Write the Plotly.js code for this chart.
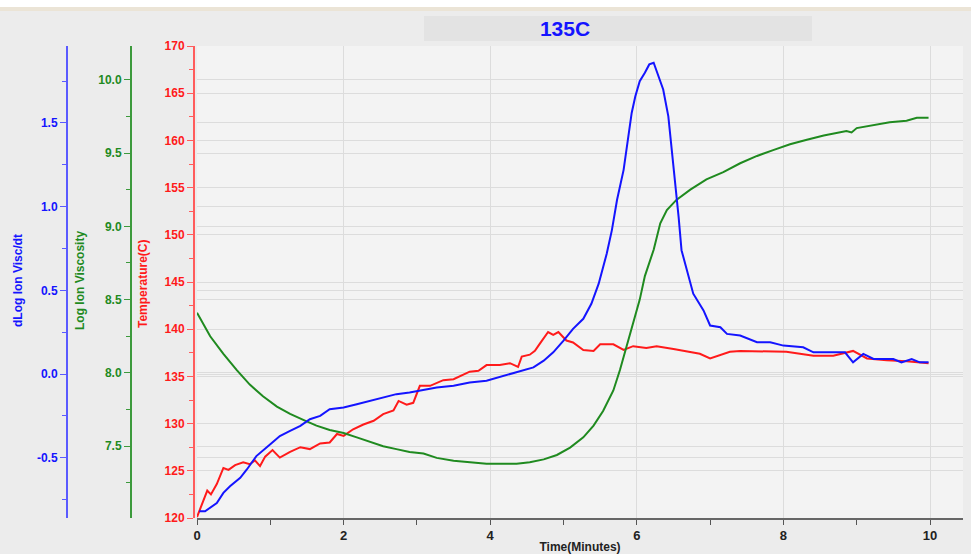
<!DOCTYPE html>
<html>
<head>
<meta charset="utf-8">
<script src="https://cdn.plot.ly/plotly-3.0.1.min.js"></script>
<style>html,body{margin:0;padding:0;background:#ececec;}#chart{width:971px;height:554px;}</style>
</head>
<body>
<div id="chart"></div>
<script>
// ---- Data ----
var chartTitle = '135C';
var xTitle = 'Time(Minutes)';
var tempTitle = 'Temperature(C)';
var viscTitle = 'Log Ion Viscosity';
var dviscTitle = 'dLog Ion Visc/dt';

var tempTime = [0, 0.14, 0.19, 0.27, 0.36, 0.43, 0.52, 0.63, 0.72, 0.79, 0.86, 0.93, 1.03, 1.13, 1.27, 1.41, 1.54, 1.68, 1.81, 1.91, 2.0, 2.13, 2.27, 2.41, 2.54, 2.68, 2.75, 2.86, 2.95, 3.04, 3.18, 3.36, 3.50, 3.59, 3.72, 3.84, 3.95, 4.13, 4.27, 4.38, 4.43, 4.54, 4.61, 4.68, 4.79, 4.86, 4.93, 5.04, 5.13, 5.27, 5.41, 5.50, 5.68, 5.82, 5.95, 6.13, 6.27, 6.5, 6.86, 7.0, 7.27, 7.41, 7.77, 8.04, 8.41, 8.68, 8.95, 9.14, 9.41, 9.68, 9.98];
var tempVals = [120.1, 122.9, 122.5, 123.6, 125.3, 125.1, 125.6, 125.9, 125.7, 126.1, 125.5, 126.5, 127.2, 126.4, 127.0, 127.5, 127.3, 127.9, 128.0, 128.9, 128.7, 129.4, 129.9, 130.3, 131.0, 131.4, 132.4, 132.0, 132.2, 134.0, 134.0, 134.6, 134.7, 135.0, 135.5, 135.6, 136.2, 136.2, 136.4, 136.0, 137.1, 137.3, 137.7, 138.5, 139.7, 139.4, 139.7, 138.8, 138.6, 137.8, 137.7, 138.4, 138.4, 137.8, 138.2, 138.0, 138.2, 137.9, 137.4, 136.9, 137.6, 137.7, 137.6, 137.6, 137.2, 137.2, 137.7, 136.9, 136.7, 136.6, 136.4];

var dviscTime = [0.03, 0.11, 0.27, 0.36, 0.45, 0.59, 0.68, 0.81, 1.0, 1.13, 1.27, 1.41, 1.54, 1.68, 1.81, 2.0, 2.18, 2.36, 2.54, 2.72, 2.9, 3.04, 3.27, 3.50, 3.72, 3.95, 4.18, 4.41, 4.59, 4.73, 4.86, 5.0, 5.13, 5.27, 5.38, 5.48, 5.59, 5.66, 5.73, 5.82, 5.86, 5.89, 5.93, 5.98, 6.04, 6.11, 6.17, 6.23, 6.29, 6.36, 6.43, 6.48, 6.52, 6.57, 6.61, 6.70, 6.77, 6.91, 7.0, 7.14, 7.23, 7.41, 7.64, 7.82, 8.0, 8.27, 8.41, 8.68, 8.84, 8.95, 9.09, 9.23, 9.50, 9.61, 9.75, 9.86, 9.98];
var dviscVals = [-0.82, -0.82, -0.77, -0.71, -0.67, -0.62, -0.57, -0.49, -0.42, -0.37, -0.34, -0.31, -0.27, -0.25, -0.21, -0.20, -0.18, -0.16, -0.14, -0.12, -0.11, -0.10, -0.08, -0.07, -0.05, -0.04, -0.01, 0.02, 0.04, 0.08, 0.13, 0.20, 0.27, 0.33, 0.42, 0.54, 0.72, 0.86, 1.04, 1.22, 1.34, 1.42, 1.56, 1.66, 1.75, 1.80, 1.85, 1.86, 1.79, 1.70, 1.54, 1.34, 1.14, 0.94, 0.74, 0.60, 0.48, 0.38, 0.29, 0.28, 0.24, 0.23, 0.19, 0.19, 0.17, 0.16, 0.13, 0.13, 0.13, 0.07, 0.12, 0.09, 0.09, 0.07, 0.09, 0.07, 0.07];

var viscTime = [0, 0.18, 0.36, 0.54, 0.72, 0.90, 1.09, 1.27, 1.45, 1.63, 1.81, 2.0, 2.18, 2.36, 2.54, 2.72, 2.90, 3.09, 3.27, 3.50, 3.72, 3.95, 4.18, 4.36, 4.54, 4.73, 4.91, 5.09, 5.27, 5.41, 5.54, 5.68, 5.77, 5.86, 5.95, 6.04, 6.11, 6.23, 6.32, 6.41, 6.54, 6.73, 6.95, 7.18, 7.41, 7.64, 7.86, 8.09, 8.32, 8.55, 8.86, 8.93, 9.0, 9.23, 9.45, 9.68, 9.82, 9.98];
var viscVals = [8.41, 8.25, 8.13, 8.02, 7.92, 7.84, 7.77, 7.72, 7.68, 7.64, 7.61, 7.59, 7.56, 7.53, 7.50, 7.48, 7.46, 7.45, 7.42, 7.40, 7.39, 7.38, 7.38, 7.38, 7.39, 7.41, 7.44, 7.49, 7.56, 7.64, 7.74, 7.88, 8.02, 8.18, 8.34, 8.50, 8.66, 8.84, 9.02, 9.11, 9.18, 9.25, 9.32, 9.37, 9.43, 9.48, 9.52, 9.56, 9.59, 9.62, 9.65, 9.64, 9.67, 9.69, 9.71, 9.72, 9.74, 9.74];

var dviscTickVals = [-0.5, 0, 0.5, 1.0, 1.5];
var dviscTickText = ['-0.5', '0.0', '0.5', '1.0', '1.5'];

// ---- Styles ----
var RED = '#ff1a1a', GREEN = '#1f8a1f', BLUE = '#1414ff';
var FONT = '"Liberation Sans", Arial, sans-serif';
var W = 971, H = 554, ML = 0, MR = 8, MT = 46, MB = 36;
var PW = W - ML - MR, PH = H - MT - MB;
function px2x(p) { return (p - ML) / PW; }
function px2y(p) { return (H - MB - p) / PH; }

var traces = [
  {x: tempTime, y: tempVals, yaxis: 'y', mode: 'lines', line: {color: RED, width: 2}},
  {x: viscTime, y: viscVals, yaxis: 'y2', mode: 'lines', line: {color: GREEN, width: 2}},
  {x: dviscTime, y: dviscVals, yaxis: 'y3', mode: 'lines', line: {color: BLUE, width: 2}}
];

var grid = '#dcdcdc';
var layout = {
  width: W, height: H,
  margin: {l: ML, r: MR, t: MT, b: MB, pad: 0},
  paper_bgcolor: '#ececec',
  plot_bgcolor: '#f3f3f3',
  showlegend: false,
  hovermode: false,
  title: {text: chartTitle, font: {family: FONT, size: 21, color: BLUE, weight: 'bold'},
          xref: 'container', yref: 'container', x: 565 / W, xanchor: 'center', y: 1 - 29 / H, yanchor: 'middle'},
  xaxis: {
    domain: [px2x(197), 1], range: [0, 10.45], dtick: 2, tick0: 0,
    ticks: 'outside', ticklen: 5, tickcolor: '#555', showline: true, linecolor: '#666', linewidth: 1.5,
    showgrid: true, gridcolor: grid, zeroline: false,
    minor: {dtick: 1, ticks: 'outside', ticklen: 5, tickcolor: '#555'},
    tickfont: {family: '"Liberation Sans Narrow", ' + FONT, size: 13, color: '#222', weight: 'bold'},
    title: {text: xTitle, font: {family: '"Liberation Sans Narrow", ' + FONT, size: 12, color: '#222', weight: 'bold'}, standoff: 2}
  },
  yaxis: {
    range: [120, 170], dtick: 5, tick0: 0, anchor: 'free', position: px2x(193), side: 'left',
    showline: true, linecolor: '#ff5c5c', linewidth: 1.5, ticks: 'outside', ticklen: 6, tickcolor: '#ff5c5c',
    minor: {dtick: 2.5, ticks: 'outside', ticklen: 4, tickcolor: '#ff5c5c'},
    tickfont: {family: FONT, size: 12, color: RED, weight: 'bold'},
    showgrid: true, gridcolor: grid, zeroline: false
  },
  yaxis2: {
    overlaying: 'y', range: [7.01, 10.23], dtick: 0.5, tick0: 0, tickformat: '.1f', anchor: 'free', position: px2x(130), side: 'left',
    showline: true, linecolor: '#3c9a3c', linewidth: 1.5, ticks: 'outside', ticklen: 6, tickcolor: '#3c9a3c',
    minor: {dtick: 0.25, ticks: 'outside', ticklen: 4, tickcolor: '#3c9a3c'},
    tickfont: {family: FONT, size: 12, color: GREEN, weight: 'bold'},
    showgrid: true, gridcolor: grid, zeroline: false
  },
  yaxis3: {
    overlaying: 'y', range: [-0.86, 1.96], tickmode: 'array', tickvals: dviscTickVals, ticktext: dviscTickText,
    anchor: 'free', position: px2x(66), side: 'left',
    showline: true, linecolor: '#5a5aff', linewidth: 1.5, ticks: 'outside', ticklen: 6, tickcolor: '#5a5aff',
    minor: {dtick: 0.25, ticks: 'outside', ticklen: 4, tickcolor: '#5a5aff'},
    tickfont: {family: FONT, size: 12, color: BLUE, weight: 'bold'},
    showgrid: true, gridcolor: grid, zeroline: false
  },
  annotations: [
    {text: dviscTitle, xref: 'paper', yref: 'paper', x: px2x(18), y: px2y(281), textangle: -90, showarrow: false,
     xanchor: 'center', yanchor: 'middle', font: {family: FONT, size: 12, color: BLUE, weight: 'bold'}},
    {text: viscTitle, xref: 'paper', yref: 'paper', x: px2x(80), y: px2y(281), textangle: -90, showarrow: false,
     xanchor: 'center', yanchor: 'middle', font: {family: FONT, size: 12, color: GREEN, weight: 'bold'}},
    {text: tempTitle, xref: 'paper', yref: 'paper', x: px2x(143), y: px2y(284), textangle: -90, showarrow: false,
     xanchor: 'center', yanchor: 'middle', font: {family: FONT, size: 12, color: RED, weight: 'bold'}}
  ],
  shapes: [
    {type: 'rect', xref: 'paper', yref: 'paper', x0: px2x(0), x1: px2x(W), y0: px2y(7), y1: px2y(0),
     fillcolor: '#ffffff', line: {width: 0}, layer: 'below'},
    {type: 'rect', xref: 'paper', yref: 'paper', x0: px2x(0), x1: px2x(W), y0: px2y(11), y1: px2y(7),
     fillcolor: '#ebe4d6', line: {width: 0}, layer: 'below'},
    {type: 'rect', xref: 'paper', yref: 'paper', x0: px2x(424), x1: px2x(812), y0: px2y(41), y1: px2y(16),
     fillcolor: '#e3e3e3', line: {width: 0}, layer: 'below'}
  ]
};

Plotly.newPlot('chart', traces, layout, {staticPlot: true, displayModeBar: false});
</script>
</body>
</html>
